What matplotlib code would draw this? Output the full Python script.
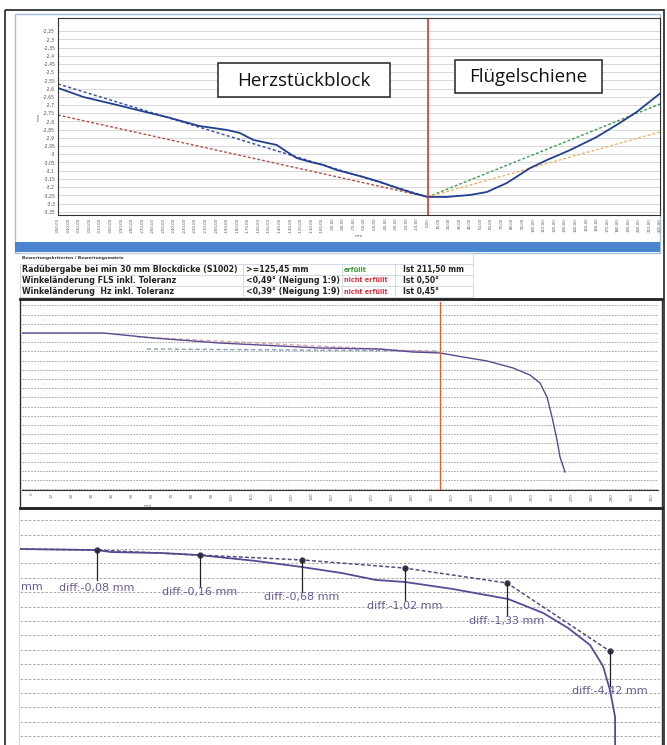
import numpy as np
import matplotlib
matplotlib.use('Agg')
import matplotlib.pyplot as plt
from matplotlib.patches import Rectangle
from matplotlib.ticker import FuncFormatter

# ---------------- data ----------------
# top chart (mm along rail, height in mm)
top_x = [-350, -326, -294, -263, -247, -237, -216, -190, -178, -165, -152, -143,
         -133, -124, -111, -99, -86, -61, -45, -29, -14, 0,
         18, 40, 56, 75, 97, 113, 135, 160, 182, 198, 220]
top_y = [-2.596, -2.651, -2.700, -2.749, -2.773, -2.791, -2.828, -2.852, -2.870,
         -2.913, -2.931, -2.943, -2.986, -3.023, -3.047, -3.065, -3.096, -3.138,
         -3.169, -3.205, -3.236, -3.260,
         -3.260, -3.248, -3.230, -3.175, -3.084, -3.035, -2.974, -2.895, -2.809,
         -2.742, -2.630]
fit_left_x = [-350, 0]
fit_blue_y = [-2.572, -3.260]
fit_red_y = [-2.761, -3.260]
fit_right_x = [0, 220]
fit_green_y = [-3.260, -2.694]
fit_orange_y = [-3.260, -2.864]
top_xticks = list(range(-350, 221, 10))
top_yticks = [-3.35, -3.3, -3.25, -3.2, -3.15, -3.1, -3.05, -3.0, -2.95, -2.9,
              -2.85, -2.8, -2.75, -2.7, -2.65, -2.6, -2.55, -2.5, -2.45, -2.4,
              -2.35, -2.3, -2.25]

# middle chart
mid_x = [-5, 35.5, 60.5, 94, 144, 174, 190.5, 204, 215.5, 227.5, 240.5, 249, 254,
         257.5, 260, 262.5, 264, 266.5]
mid_y = [0, 0, -0.54, -1.09, -1.63, -1.74, -2.07, -2.17, -2.61, -3.04, -3.80,
         -4.57, -5.43, -6.96, -9.13, -11.63, -13.48, -15.11]
mid_red_x = [52.5, 202.5]
mid_red_y = [-0.43, -2.07]
mid_blue_x = [57.5, 202.5]
mid_blue_y = [-1.74, -1.96]
mid_split = 204
mid_xticks = list(range(0, 311, 10))

# bottom chart
bot_x = [2, 40, 46.8, 71.7, 89.8, 117.6, 140, 159.5, 176.1, 190.2, 213.7, 240.5,
         257.6, 269.8, 280.5, 286.8, 290.2, 292.7, 292.7]
bot_y = [0, -0.07, -0.21, -0.28, -0.42, -0.83, -1.25, -1.67, -2.15, -2.29, -2.78,
         -3.47, -4.44, -5.49, -6.67, -8.13, -9.79, -11.67, -14.0]
ref_x = [2, 40, 90, 140, 190, 240, 290]
ref_y = [0, -0.07, -0.42, -0.76, -1.32, -2.36, -7.08]
drop_end = [-2.15, -2.64, -2.99, -3.54, -4.58, -9.51]
label_y = [-2.71, -2.99, -3.33, -3.96, -5.0, -9.86]
diff_labels = ['diff:-0,08 mm', 'diff:-0,16 mm', 'diff:-0,68 mm',
               'diff:-1,02 mm', 'diff:-1,33 mm', 'diff:-4,42 mm']

# evaluation table
crit = ['Radübergabe bei min 30 mm Blockdicke (S1002)',
        'Winkeländerung FLS inkl. Toleranz',
        'Winkeländerung  Hz inkl. Toleranz']
limit = ['>=125,45 mm', '<0,49° (Neigung 1:9)', '<0,39° (Neigung 1:9)']
status = ['erfüllt', 'nicht erfüllt', 'nicht erfüllt']
actual = ['Ist 211,50 mm', 'Ist 0,50°', 'Ist 0,45°']

W, H = 667, 745
fig = plt.figure(figsize=(W / 100, H / 100), dpi=100)


def box(l, t, r, b):
    # figure fraction rect from pixel box
    return [l / W, (H - b) / H, (r - l) / W, (b - t) / H]


# background / page frames
bg = fig.add_axes([0, 0, 1, 1])
bg.set_xlim(0, W)
bg.set_ylim(H, 0)
bg.axis('off')
bg.add_patch(Rectangle((5, 10), 659, 740, fill=False, ec='#222222', lw=1.2))
bg.add_patch(Rectangle((15, 14), 645, 239, fill=False, ec='#9fbfdf', lw=1.0))
bg.add_patch(Rectangle((15, 242), 645, 10, color='#4a86d0', lw=0))
bg.add_patch(Rectangle((20, 299), 642, 209, fill=False, ec='#333333', lw=1.0))
bg.add_patch(Rectangle((20, 508), 642, 240, fill=False, ec='#333333', lw=1.0))
bg.plot([20, 662], [299, 299], color='#222222', lw=2)
bg.plot([20, 662], [508, 508], color='#222222', lw=2)

# table
rows_t = [264, 275, 286, 297]
cols = [20, 243, 342, 395, 473]
for yy in rows_t:
    bg.plot([cols[0], cols[-1]], [yy, yy], color='#c8d4e0', lw=0.6)
for xx in cols:
    bg.plot([xx, xx], [264, 297], color='#c8d4e0', lw=0.6)
bg.plot([cols[0], cols[-1]], [253, 253], color='#c8d4e0', lw=0.6)
bg.plot([cols[-1], cols[-1]], [253, 264], color='#c8d4e0', lw=0.6)
bg.text(22, 258.5, 'Bewertungskriterien / Bewertungsmatrix', fontsize=3.2,
        fontweight='bold', color='#333333', va='center')
for i in range(3):
    yc = 269.5 + 11 * i
    bg.text(22, yc, crit[i], fontsize=5.7, fontweight='bold', color='#222222', va='center')
    bg.text(246, yc, limit[i], fontsize=5.7, fontweight='bold', color='#222222', va='center')
    bg.text(344, yc, status[i], fontsize=4.7, fontweight='bold', va='center',
            color='#3a9a3a' if status[i] == 'erfüllt' else '#e03040')
    bg.text(403, yc, actual[i], fontsize=5.5, fontweight='bold', color='#222222', va='center')

# ---------------- top chart ----------------
ax1 = fig.add_axes(box(58, 18, 660, 215))
ax1.set_xlim(-350, 220)
ax1.set_ylim(-3.37, -2.17)
ax1.set_yticks(top_yticks)
ax1.set_xticks(top_xticks)
ax1.yaxis.set_major_formatter(FuncFormatter(lambda v, p: f'{v:g}'.replace('.', ',')))
ax1.xaxis.set_major_formatter(FuncFormatter(lambda v, p: f'{v:.2f}'.replace('.', ',')))
ax1.tick_params(axis='y', labelsize=3.3, labelcolor='#555555', length=0, pad=2)
ax1.tick_params(axis='x', labelsize=2.8, labelcolor='#555555', length=0, pad=2,
                labelrotation=90)
ax1.grid(axis='y', color='#c8c8c8', lw=0.5)
for s in ax1.spines.values():
    s.set_color('#333333')
    s.set_linewidth(0.8)
ax1.plot(fit_left_x, fit_red_y, color='#b84a40', lw=1.0, ls=(0, (2, 1.5)))
ax1.plot(fit_left_x, fit_blue_y, color='#3a56a8', lw=1.1, ls=(0, (2, 1.5)))
ax1.plot(fit_right_x, fit_green_y, color='#3a9a50', lw=1.0, ls=(0, (2, 1.5)))
ax1.plot(fit_right_x, fit_orange_y, color='#f0b060', lw=1.0, ls=(0, (2, 1.5)))
ax1.plot(top_x, top_y, color='#233f8f', lw=1.3)
ax1.axvline(0, color='#e03030', lw=1.2)
ax1.set_xlabel('mm', fontsize=3, color='#555555', labelpad=1)
ax1.set_ylabel('mm', fontsize=3, color='#555555', labelpad=2)

# section name boxes (white, drawn over the grid)
for (l, t, r, b), name in [((218, 63, 390, 97), 'Herzstückblock'),
                           ((455, 60, 602, 93), 'Flügelschiene')]:
    ax1.add_patch(Rectangle((l, t), r - l, b - t, transform=bg.transData,
                            fc='white', ec='#222222', lw=1.1, zorder=5, clip_on=False))
    ax1.text((l + r) / 2, (t + b) / 2 + 1, name, transform=bg.transData, fontsize=13.5,
             family='Open Sans', ha='center', va='center', zorder=6, color='#111111')

# ---------------- middle chart ----------------
ax2 = fig.add_axes(box(22, 302, 658, 490))
ax2.set_xlim(-5, 313)
ax2.set_ylim(-17.07, 3.37)
ax2.set_xticks(mid_xticks)
ax2.set_yticks(range(-17, 4))
ax2.xaxis.set_major_formatter(FuncFormatter(lambda v, p: f'{v:.0f}'))
ax2.tick_params(axis='x', labelsize=3, labelcolor='#666666', length=0, pad=2,
                labelrotation=90)
ax2.tick_params(axis='y', left=False, labelleft=False)
ax2.grid(axis='y', color='#999999', lw=0.6, ls=(0, (2, 1.5)))
for s in ax2.spines.values():
    s.set_visible(False)
ax2.spines['bottom'].set_visible(True)
ax2.spines['bottom'].set_color('#333333')
ax2.plot(mid_blue_x, mid_blue_y, color='#8a9ac0', lw=1.0, ls=(0, (3, 2)))
ax2.plot(mid_red_x, mid_red_y, color='#d89090', lw=1.0, ls=(0, (3, 2)), alpha=0.8)
ax2.plot(mid_x, mid_y, color='#5a4a90', lw=1.0)
ax2.axvline(mid_split, color='#e0602a', lw=1.0)
fig.text(148 / W, 1 - 506 / H, 'mm', fontsize=3, color='#555555', ha='center', va='center')

# ---------------- bottom chart ----------------
ax3 = fig.add_axes(box(20, 510, 660, 745))
ax3.set_xlim(2.44, 314.6)
ax3.set_ylim(-13.61, 2.71)
ax3.set_yticks(range(-13, 3))
ax3.tick_params(left=False, bottom=False, labelleft=False, labelbottom=False)
ax3.grid(axis='y', color='#9a9a9a', lw=0.6, ls=(0, (3, 2)))
for s in ax3.spines.values():
    s.set_visible(False)
ax3.plot(bot_x, bot_y, color='#5a4a96', lw=1.3)
ax3.plot(ref_x, ref_y, color='#5a4a80', lw=1.1, ls=(0, (2.5, 1.5)))
ax3.plot(ref_x[1:], ref_y[1:], 'o', color='#3a3048', ms=3.5)
for i in range(6):
    xm = ref_x[i + 1]
    ax3.plot([xm, xm], [ref_y[i + 1], drop_end[i]], color='#222222', lw=0.9)
    ax3.text(xm, label_y[i], diff_labels[i], fontsize=8, color='#6a5a96',
             ha='center', va='center')
# remainder of a label cut by the left edge
ax3.text(3.0, -2.64, 'mm', fontsize=8, color='#6a5a96', ha='left', va='center')

fig.savefig('out.png', dpi=100)
